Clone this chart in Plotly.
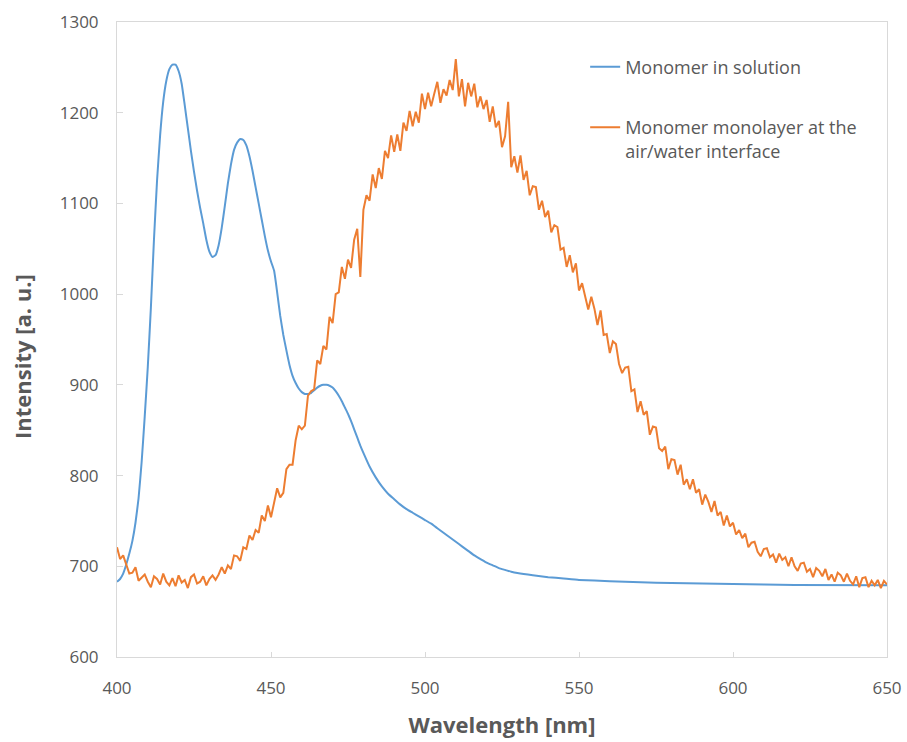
import plotly.graph_objects as go

# Blue: monomer in solution
blue_x = list(range(400, 481)) + [482, 484, 486, 488, 490, 492, 494, 496, 498, 500, 502, 504, 506, 508, 510,
                                  512, 514, 516, 518, 520, 522, 524, 526, 528, 530, 535, 540, 545, 550, 560,
                                  570, 580, 590, 600, 620, 650]
blue_y = [683, 686, 692, 702, 714, 728, 748, 775, 815, 865, 920, 985, 1060, 1125, 1175, 1212, 1235, 1248, 1253,
          1253, 1246, 1232, 1208, 1183, 1158, 1135, 1114, 1095, 1078, 1060, 1047, 1041, 1043, 1054, 1073, 1097,
          1122, 1143, 1159, 1167, 1171, 1170, 1164, 1152, 1136, 1118, 1100, 1082, 1064, 1048, 1036, 1026, 1002,
          976, 955, 938, 922, 910, 902, 896, 892, 890, 890, 891, 894, 897, 899, 900, 900, 899, 897, 893, 888,
          882, 875, 868, 860, 851, 842, 833, 825,
          810, 798, 788, 780, 774, 768, 763, 759, 755, 751, 747, 742, 737, 732, 727, 722, 717, 712, 708, 704,
          701, 698, 696, 694, 692.5, 690, 688, 686.5, 685, 683.5, 682.5, 681.5, 681, 680.5, 679.5, 679]

# Orange: monomer monolayer at the air/water interface (1 nm steps, 400-650)
orange_x = list(range(400, 651))
orange_y = (
    [721, 708, 712, 701, 692, 693, 699, 684, 688, 691, 683]
    + [677, 689, 686, 680, 692, 683, 679, 687, 678, 690, 682, 685, 676, 688, 691, 681, 683, 689, 679, 686]
    + [690, 685, 691, 699, 692, 701, 697, 712, 711, 706, 721, 719, 734, 729, 740]
    + [737, 756, 750, 767, 754, 772, 786, 776, 781, 807, 812, 812, 839, 855, 851, 855, 888, 893, 895, 927,
       923, 943, 939]
    + [975, 968, 1000, 1002, 1030, 1017, 1038, 1029, 1060, 1072, 1019, 1093, 1109, 1103, 1132, 1117, 1139,
       1127, 1158, 1150, 1175, 1157, 1176, 1158, 1189, 1180, 1202, 1185, 1201, 1189, 1221, 1204]
    + [1222, 1207, 1221, 1234, 1211, 1226, 1219, 1236, 1225, 1259, 1218, 1237, 1207, 1233, 1218, 1232, 1206,
       1218, 1204, 1214]
    + [1190, 1207, 1184, 1191, 1162, 1174, 1212, 1140, 1152, 1134, 1153, 1126, 1136, 1109, 1119, 1118, 1093,
       1103, 1085, 1092]
    + [1068, 1076, 1074, 1049, 1051, 1030, 1043, 1024, 1034, 1004, 1012, 999, 983, 997, 984, 966, 982, 955,
       956, 935, 948, 945, 923, 913, 919, 920, 893, 895, 870, 882, 867, 871, 845, 854, 853, 830, 827, 832,
       807, 818, 817, 801, 812, 790, 796, 785, 796, 781, 785, 768, 779, 771, 760, 772, 756, 760, 745, 756,
       744, 748]
    + [735, 740, 731, 736, 721, 726, 727, 716, 711, 719, 720, 710, 713, 704, 714, 707, 710, 700, 710, 700,
       695, 703, 704, 694, 697, 688, 698, 695, 689, 697, 685, 691, 683, 693, 690, 683, 692, 684, 680, 689,
       677, 687, 688, 677, 684, 679, 685, 676, 684, 680]
)

x_ticks = [400, 450, 500, 550, 600, 650]
y_ticks = [600, 700, 800, 900, 1000, 1100, 1200, 1300]

FONT = "Open Sans"
GRAY = "#595959"
AXIS = "#D9D9D9"

fig = go.Figure()
fig.add_trace(go.Scatter(x=blue_x, y=blue_y, mode="lines", name="Monomer in solution",
                         line=dict(color="#5B9BD5", width=2, shape="spline", smoothing=0.4),
                         legendgroup="a"))
fig.add_trace(go.Scatter(x=orange_x, y=orange_y, mode="lines",
                         name="Monomer monolayer at the<br>air/water interface",
                         line=dict(color="#ED7D31", width=2), legendgroup="b"))

fig.update_layout(
    width=907, height=742,
    margin=dict(l=117, r=20, t=22, b=85, autoexpand=False),
    paper_bgcolor="white", plot_bgcolor="white",
    font=dict(family=FONT, color=GRAY, size=17),
    showlegend=True,
    legend=dict(x=0.608, y=0.958, xanchor="left", yanchor="top", bgcolor="rgba(0,0,0,0)",
                font=dict(family=FONT, size=18, color=GRAY), tracegroupgap=34, valign="top",
                itemwidth=30),
    xaxis=dict(range=[400, 650], tickvals=x_ticks, ticktext=[str(v) for v in x_ticks],
               showgrid=False, zeroline=False, showline=True, mirror=True,
               linecolor=AXIS, linewidth=1, ticks="inside", ticklen=5, tickcolor=AXIS,
               ticklabelstandoff=16,
               title=dict(text="<b>Wavelength [nm]</b>", font=dict(family=FONT, size=22, color=GRAY),
                          standoff=19)),
    yaxis=dict(range=[600, 1300], tickvals=y_ticks, ticktext=[str(v) for v in y_ticks],
               showgrid=False, zeroline=False, showline=True, mirror=True,
               linecolor=AXIS, linewidth=1, ticks="inside", ticklen=6, tickcolor=AXIS,
               ticklabelstandoff=14),
    annotations=[dict(text="<b>Intensity [a. u.]</b>", xref="paper", yref="paper",
                      x=-0.1234, y=0.474, xanchor="center", yanchor="middle", textangle=-90,
                      showarrow=False, font=dict(family=FONT, size=22, color=GRAY))],
)

fig.write_html("out.html")
